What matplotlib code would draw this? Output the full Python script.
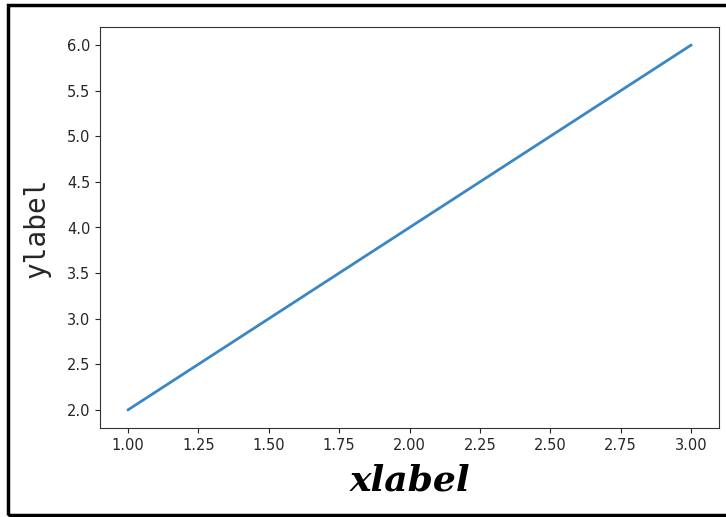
import matplotlib
matplotlib.use('Agg')
import matplotlib.pyplot as plt
from matplotlib.patches import Rectangle

# data
x_vals = [1, 2, 3]
y_vals = [2, 4, 6]

fig = plt.figure(figsize=(7.26, 5.17), dpi=100)
ax = fig.add_axes([100 / 726, 1 - 428 / 517, 619 / 726, 401 / 517])

ax.plot(x_vals, y_vals, color='#3a87c4', linewidth=2)

ax.set_xlabel('xlabel', fontsize=26, fontweight='bold', fontstyle='italic',
              family='DejaVu Serif', color='black', labelpad=8)
ax.set_ylabel('ylabel', fontsize=20, family='DejaVu Sans Mono', color='#262626',
              labelpad=12)

ax.tick_params(labelsize=10.5, colors='#262626')
for sp in ax.spines.values():
    sp.set_color('#333333')

# black frame around the whole picture
fig.patches.append(Rectangle((8 / 726, 2 / 517), 730 / 726, 510 / 517,
                             transform=fig.transFigure, fill=False,
                             edgecolor='black', linewidth=2.5))

fig.savefig('out.png', dpi=100)
